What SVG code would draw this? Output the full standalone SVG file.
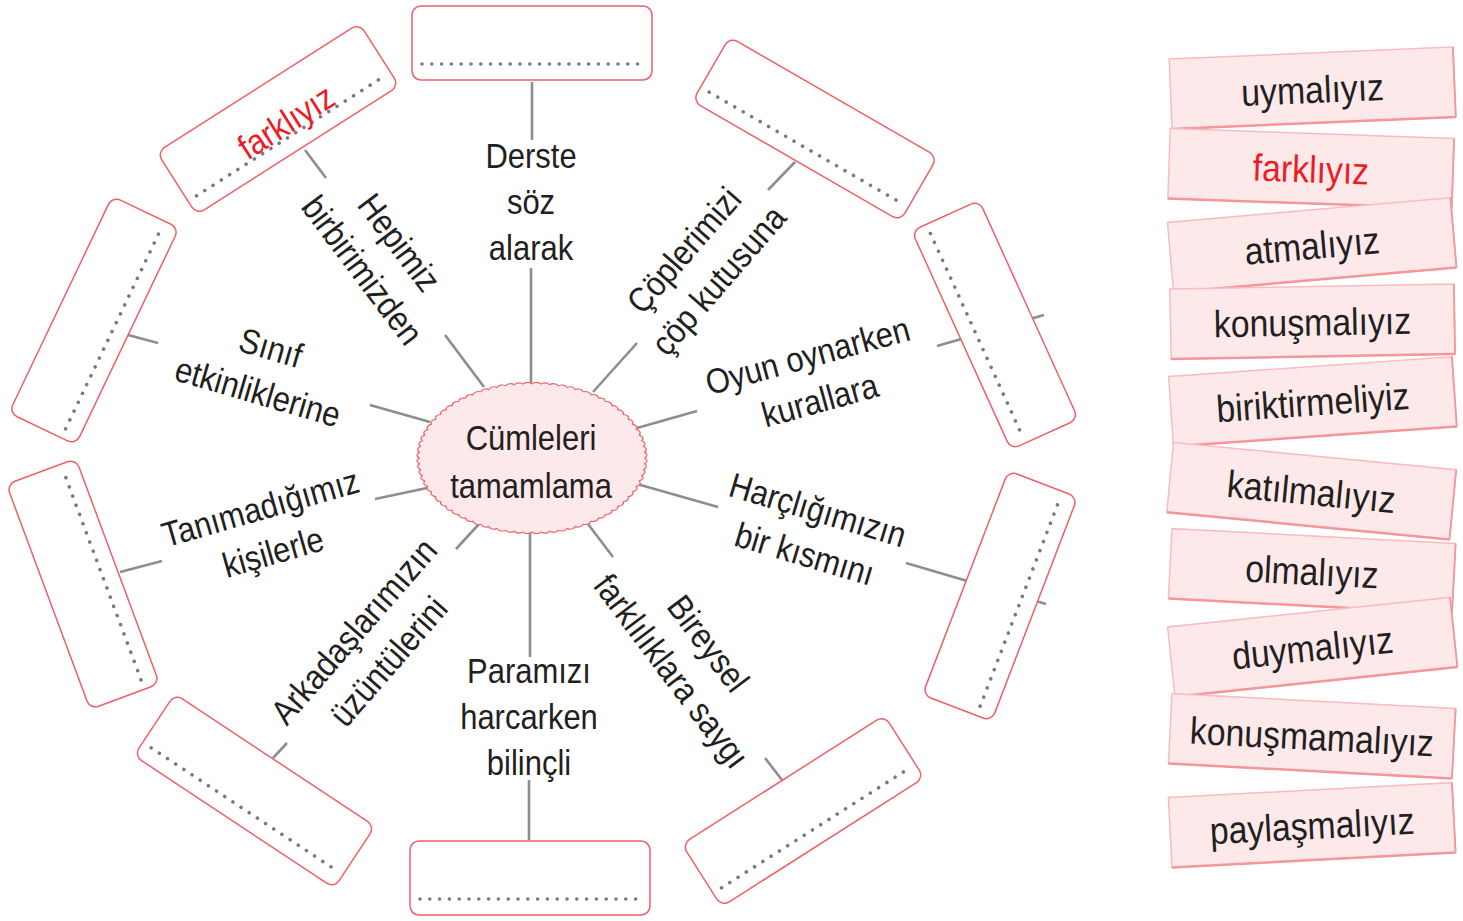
<svg xmlns="http://www.w3.org/2000/svg" xmlns:xlink="http://www.w3.org/1999/xlink" width="1463" height="921" viewBox="0 0 1463 921">
<style>
.lbl{font-family:"Liberation Sans",Arial,sans-serif;font-size:35px;fill:#231f20;text-anchor:middle}
.ct{font-family:"Liberation Sans",Arial,sans-serif;font-size:38px;fill:#231f20;text-anchor:middle}
.red{fill:#ec1c24}
.box{fill:#fff;stroke:#ef5f67;stroke-width:1.5}
.dots{stroke:#7a7a7a;stroke-width:3.6;stroke-linecap:round;stroke-dasharray:0 9.8;fill:none}
.conn line{stroke:#8e8e8e;stroke-width:2.6}
.card{fill:#fde9ea;stroke:#f8bcbf;stroke-width:1.5}
.cedge{stroke:#f3979b;stroke-width:2.5}
</style>
<defs>
<g id="ansbox"><rect class="box" x="-120" y="-37" width="240" height="74" rx="9"/><line class="dots" x1="-110" y1="21" x2="112" y2="21"/></g>
<g id="card"><rect class="card" x="-142" y="-35" width="284" height="70"/><line class="cedge" x1="-142" y1="35" x2="142" y2="35"/><line class="cedge" x1="142" y1="-35" x2="142" y2="35" style="stroke-width:1.8"/></g>
<path id="sc1" d="M74,0 A3.3,3.3 0 0 1 73.772,5.806" fill="#fde8ea" stroke="#f0646b" stroke-width="1.2" vector-effect="non-scaling-stroke"/>
<g id="sc10">
<use href="#sc1"/><use href="#sc1" transform="rotate(4.5)"/><use href="#sc1" transform="rotate(9)"/><use href="#sc1" transform="rotate(13.5)"/><use href="#sc1" transform="rotate(18)"/><use href="#sc1" transform="rotate(22.5)"/><use href="#sc1" transform="rotate(27)"/><use href="#sc1" transform="rotate(31.5)"/><use href="#sc1" transform="rotate(36)"/><use href="#sc1" transform="rotate(40.5)"/>
</g>
</defs>
<rect width="1463" height="921" fill="#fff"/>
<g id="connectors" class="conn">
<line x1="532" y1="82" x2="532" y2="140"/><line x1="531" y1="268" x2="531" y2="384"/>
<line x1="305" y1="150" x2="326" y2="178"/><line x1="445" y1="335" x2="484" y2="387"/>
<line x1="768" y1="190" x2="795" y2="162"/><line x1="637" y1="343" x2="593" y2="392"/>
<line x1="937" y1="346" x2="1044" y2="315"/><line x1="697" y1="411" x2="637" y2="428"/>
<line x1="906" y1="563" x2="1046" y2="604"/><line x1="718" y1="507" x2="637" y2="484"/>
<line x1="765" y1="758" x2="782" y2="780"/><line x1="613" y1="557" x2="588" y2="524"/>
<line x1="529" y1="780" x2="529" y2="840"/><line x1="530" y1="657" x2="530" y2="533"/>
<line x1="273" y1="758" x2="287" y2="743"/><line x1="456" y1="549" x2="479" y2="524"/>
<line x1="120" y1="572" x2="162" y2="561"/><line x1="375" y1="499" x2="427" y2="488"/>
<line x1="128" y1="335" x2="158" y2="343"/><line x1="370" y1="405" x2="430" y2="422"/>
</g>
<g id="center">
<g transform="translate(532,458) scale(1.52,1)">
<circle r="74" fill="#fde8ea"/>
<use href="#sc10"/><use href="#sc10" transform="rotate(45)"/><use href="#sc10" transform="rotate(90)"/><use href="#sc10" transform="rotate(135)"/><use href="#sc10" transform="rotate(180)"/><use href="#sc10" transform="rotate(225)"/><use href="#sc10" transform="rotate(270)"/><use href="#sc10" transform="rotate(315)"/>
</g>
<g transform="translate(531,0) scale(.885,1)"><text class="lbl"><tspan x="0" y="450">Cümleleri</tspan><tspan x="0" y="498">tamamlama</tspan></text></g>
</g>
<g id="box-1" transform="translate(532,43)"><use href="#ansbox"/></g>
<g id="box-2" transform="translate(278,119) rotate(-32.5)"><use href="#ansbox"/><g transform="scale(.885,1)"><text class="lbl red" x="6" y="19">farklıyız</text></g></g>
<g id="box-3" transform="translate(815,129) rotate(30)"><use href="#ansbox"/></g>
<g id="box-4" transform="translate(995,325) rotate(65.6)"><use href="#ansbox"/></g>
<g id="box-5" transform="translate(1000,596) rotate(-69)"><use href="#ansbox"/></g>
<g id="box-6" transform="translate(803,811) rotate(-32.5)"><use href="#ansbox"/></g>
<g id="box-7" transform="translate(530,878)"><use href="#ansbox"/></g>
<g id="box-8" transform="translate(254.5,791) rotate(33.5)"><use href="#ansbox"/></g>
<g id="box-9" transform="translate(83,584) rotate(-110.4)"><use href="#ansbox"/></g>
<g id="box-10" transform="translate(94,320.5) rotate(-64.5)"><use href="#ansbox"/></g>
<g id="lbl-derste" transform="translate(531,0) scale(.885,1)"><text class="lbl"><tspan x="0" y="168">Derste</tspan><tspan x="0" y="214">söz</tspan><tspan x="0" y="260">alarak</tspan></text></g>
<g id="lbl-hepimiz" transform="translate(380,257) rotate(53) scale(.885,1)"><text class="lbl"><tspan x="0" y="-12">Hepimiz</tspan><tspan x="0" y="34">birbirimizden</tspan></text></g>
<g id="lbl-cop" transform="translate(702,266) rotate(-49) scale(.885,1)"><text class="lbl"><tspan x="0" y="-12">Çöplerimizi</tspan><tspan x="0" y="34">çöp kutusuna</tspan></text></g>
<g id="lbl-oyun" transform="translate(814,379) rotate(-15.4) scale(.885,1)"><text class="lbl"><tspan x="0" y="-12">Oyun oynarken</tspan><tspan x="0" y="34">kurallara</tspan></text></g>
<g id="lbl-harc" transform="translate(811,533) rotate(16.6) scale(.885,1)"><text class="lbl"><tspan x="0" y="-12">Harçlığımızın</tspan><tspan x="0" y="34">bir kısmını</tspan></text></g>
<g id="lbl-bireysel" transform="translate(689,658) rotate(53) scale(.885,1)"><text class="lbl"><tspan x="0" y="-12">Bireysel</tspan><tspan x="0" y="34">farklılıklara saygı</tspan></text></g>
<g id="lbl-paramizi" transform="translate(529,0) scale(.885,1)"><text class="lbl"><tspan x="0" y="683">Paramızı</tspan><tspan x="0" y="729">harcarken</tspan><tspan x="0" y="775">bilinçli</tspan></text></g>
<g id="lbl-arkadas" transform="translate(372,647) rotate(-49) scale(.885,1)"><text class="lbl"><tspan x="0" y="-12">Arkadaşlarımızın</tspan><tspan x="0" y="34">üzüntülerini</tspan></text></g>
<g id="lbl-tanima" transform="translate(267,531) rotate(-16) scale(.885,1)"><text class="lbl"><tspan x="0" y="-12">Tanımadığımız</tspan><tspan x="0" y="34">kişilerle</tspan></text></g>
<g id="lbl-sinif" transform="translate(264,371) rotate(16.3) scale(.885,1)"><text class="lbl"><tspan x="0" y="-12">Sınıf</tspan><tspan x="0" y="34">etkinliklerine</tspan></text></g>
<g id="card-1" transform="translate(1312.5,88) rotate(-2.4)"><use href="#card"/><text class="ct" transform="scale(.89,1)" y="15">uymalıyız</text></g>
<g id="card-2" transform="translate(1311,168.5) rotate(2)"><use href="#card"/><text class="ct red" transform="scale(.89,1)" y="14">farklıyız</text></g>
<g id="card-3" transform="translate(1312,245) rotate(-5)"><use href="#card"/><text class="ct" transform="scale(.89,1)" y="14">atmalıyız</text></g>
<g id="card-4" transform="translate(1312.5,321.5) rotate(-1)"><use href="#card"/><text class="ct" transform="scale(.89,1)" y="14">konuşmalıyız</text></g>
<g id="card-5" transform="translate(1312.7,401.5) rotate(-4)"><use href="#card"/><text class="ct" transform="scale(.89,1)" y="14">biriktirmeliyiz</text></g>
<g id="card-6" transform="translate(1311.5,491) rotate(5.5)"><use href="#card"/><text class="ct" transform="scale(.89,1)" y="14">katılmalıyız</text></g>
<g id="card-7" transform="translate(1312,571) rotate(3)"><use href="#card"/><text class="ct" transform="scale(.89,1)" y="14">olmalıyız</text></g>
<g id="card-8" transform="translate(1312.5,647) rotate(-6)"><use href="#card"/><text class="ct" transform="scale(.89,1)" y="14">duymalıyız</text></g>
<g id="card-9" transform="translate(1312,736) rotate(3)"><use href="#card"/><text class="ct" transform="scale(.89,1)" y="14">konuşmamalıyız</text></g>
<g id="card-10" transform="translate(1312,825) rotate(-3)"><use href="#card"/><text class="ct" transform="scale(.89,1)" y="14">paylaşmalıyız</text></g>
</svg>
